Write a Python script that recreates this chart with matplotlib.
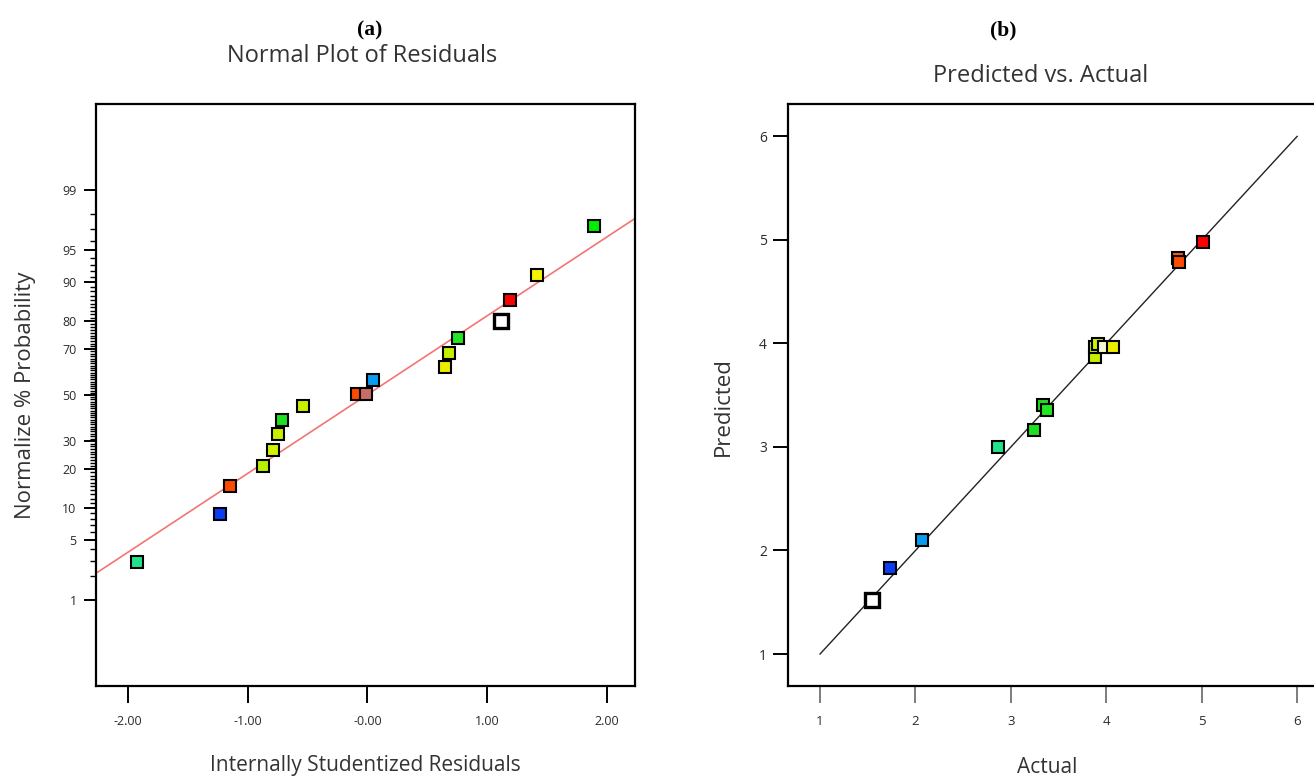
from statistics import NormalDist
import numpy as np
import matplotlib.pyplot as plt
from matplotlib.ticker import FixedLocator, NullFormatter

# (a) normal probability plot of the internally studentized residuals
res_x = [-1.93, -1.23, -1.15, -0.87, -0.79, -0.75, -0.715, -0.54, -0.09, -0.01,
         0.05, 0.65, 0.68, 0.76, 1.12, 1.19, 1.42, 1.89]
res_p = [2.9, 8.9, 15.1, 21.0, 26.7, 32.8, 39.0, 44.9, 50.4, 50.4,
         56.6, 62.4, 68.3, 74.1, 80.0, 85.9, 91.4, 97.2]
res_c = ['#22e38c', '#0a3cf5', '#ff4a00', '#bdf000', '#d2f200', '#c4f000',
         '#1ee01e', '#ccef00', '#ff4800', '#cd6b6b', '#0a9cf0', '#eeee00',
         '#c6ef00', '#22e622', '#ffffff', '#ff0000', '#f5f500', '#00ee00']
fit_x = [-2.27, 2.24]
fit_p = [2.16, 97.75]
prob_ticks = [1, 5, 10, 20, 30, 50, 70, 80, 90, 95, 99]

# (b) predicted vs actual
act = [1.54, 1.73, 2.07, 2.86, 3.24, 3.34, 3.38, 3.88, 3.88, 3.91, 3.98, 4.07,
       4.75, 4.76, 5.01]
pred = [1.52, 1.83, 2.10, 3.00, 3.16, 3.41, 3.36, 3.87, 3.97, 3.99, 3.97, 3.97,
        4.83, 4.79, 4.98]
pred_c = ['#ffffff', '#0a3cf5', '#0a9cf0', '#22e38c', '#1ee01e', '#1ee01e',
          '#22e622', '#c6ef00', '#c6ef00', '#d2f200', '#f8f8d0', '#eeee00',
          '#ff5a10', '#ff4a00', '#ff0000']
ref_line = [1, 6]

nd = NormalDist()


def prob_fwd(p):
    p = np.clip(np.asarray(p, float) / 100, 1e-9, 1 - 1e-9)
    return np.vectorize(nd.inv_cdf, otypes=[float])(p)


def prob_inv(z):
    return np.vectorize(nd.cdf, otypes=[float])(np.asarray(z, float)) * 100


plt.rcParams['font.family'] = ['Open Sans', 'DejaVu Sans']
W, H = 1314, 780
fig = plt.figure(figsize=(W / 100, H / 100), dpi=100)

lab_col = '#333333'
tick_col = '#2a2a2a'

# ---------- left panel ----------
ax1 = fig.add_axes([96 / W, 1 - 686 / H, 539 / W, 582 / H])
ax1.set_yscale('function', functions=(prob_fwd, prob_inv))
ax1.plot(fit_x, fit_p, color='#f47474', lw=1.2, zorder=2)
for x, p, c in zip(res_x, res_p, res_c):
    big = c == '#ffffff'
    ax1.plot(x, p, 's', ms=10.5 if big else 8, mfc=c, mec='black',
             mew=2.4 if big else 1.5, zorder=3)
ax1.set_xlim(-2.27, 2.237)
ax1.set_ylim(prob_inv(-3.3), prob_inv(3.3))
ax1.set_xticks([-2, -1, 0, 1, 2])
ax1.set_xticklabels(['-2.00', '-1.00', '-0.00', '1.00', '2.00'])
ax1.yaxis.set_major_locator(FixedLocator(prob_ticks))
ax1.yaxis.set_minor_locator(FixedLocator(list(range(1, 100))))
ax1.yaxis.set_minor_formatter(NullFormatter())
ax1.set_yticklabels([str(t) for t in prob_ticks])
ax1.tick_params(axis='x', direction='out', length=12, width=1.4, pad=9,
                labelsize=9, labelcolor=tick_col)
ax1.tick_params(axis='y', which='major', direction='out', length=9, width=1.4,
                pad=5, labelsize=9, labelcolor=tick_col)
ax1.tick_params(axis='y', which='minor', direction='out', length=4, width=1.0)
for s in ax1.spines.values():
    s.set_linewidth(1.6)
ax1.set_xlabel('Internally Studentized Residuals', fontsize=15, color=lab_col,
               va='center')
ax1.xaxis.set_label_coords(0.5, -0.136)
ax1.set_ylabel('Normalize % Probability', fontsize=16, color=lab_col,
               va='center')
ax1.yaxis.set_label_coords(-0.13, 0.5)

# ---------- right panel ----------
ax2 = fig.add_axes([787.7 / W, 1 - 686 / H, 539 / W, 582 / H])
ax2.plot(ref_line, ref_line, color='#222222', lw=1.0, zorder=2)
for x, y, c in zip(act, pred, pred_c):
    big = c == '#ffffff'
    ax2.plot(x, y, 's', ms=10.5 if big else 8, mfc=c, mec='black',
             mew=2.4 if big else 1.5, zorder=3)
ax2.set_xlim(0.661, 6.31)
ax2.set_ylim(0.691, 6.313)
ax2.set_xticks(range(1, 7))
ax2.set_yticks(range(1, 7))
ax2.tick_params(axis='x', direction='out', length=12, width=1.2, pad=9,
                labelsize=9.5, labelcolor=tick_col, color='#666666')
ax2.tick_params(axis='y', direction='out', length=11, width=1.4, pad=4,
                labelsize=10, labelcolor=tick_col)
for s in ax2.spines.values():
    s.set_linewidth(1.6)
ax2.set_xlabel('Actual', fontsize=15, color=lab_col, va='center')
ax2.xaxis.set_label_coords(0.481, -0.14)
ax2.set_ylabel('Predicted', fontsize=16, color=lab_col, va='center')
ax2.yaxis.set_label_coords(-0.12, 0.48)

# panel titles
fig.text(370 / W, 1 - 30 / H, '(a)', fontsize=15.5, fontweight='bold',
         family='Liberation Serif', ha='center', va='center')
fig.text(1003 / W, 1 - 30 / H, '(b)', fontsize=15.5, fontweight='bold',
         family='Liberation Serif', ha='center', va='center')
fig.text(362 / W, 1 - 56 / H, 'Normal Plot of Residuals', fontsize=17,
         color=lab_col, ha='center', va='center')
fig.text(1041 / W, 1 - 76 / H, 'Predicted vs. Actual', fontsize=17,
         color=lab_col, ha='center', va='center')

fig.savefig('out.png', dpi=100)
